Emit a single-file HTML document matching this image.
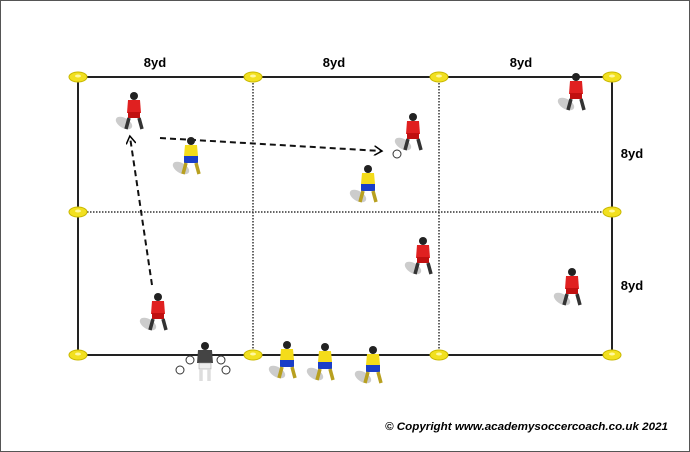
<!DOCTYPE html>
<html><head><style>
html,body{margin:0;padding:0;background:#fff;}
svg{display:block;}
text{font-family:"Liberation Sans",sans-serif;font-weight:bold;}
</style></head><body>
<svg width="690" height="452" viewBox="0 0 690 452" xmlns="http://www.w3.org/2000/svg">
<defs>
<g id="red">
<ellipse cx="-10" cy="30" rx="9" ry="5" fill="#ccc" transform="rotate(30 -10 30)"/>
<circle cx="0" cy="3" r="4" fill="#222"/>
<path d="M-6 7 L6 7 L7 20 L-7 20 Z" fill="#e02020"/>
<rect x="-6" y="19" width="12" height="6" fill="#c01010"/>
<path d="M-5 25 L-8 36 M5 25 L8 36" stroke="#333" stroke-width="3.5"/>
</g>
<g id="yel">
<ellipse cx="-10" cy="30" rx="9" ry="5" fill="#ccc" transform="rotate(30 -10 30)"/>
<circle cx="0" cy="3" r="4" fill="#222"/>
<path d="M-6 7 L6 7 L7 18 L-7 18 Z" fill="#f4dc1a"/>
<rect x="-7" y="18" width="14" height="7" fill="#1a3ec8"/>
<path d="M-5 25 L-8 36 M5 25 L8 36" stroke="#b8a020" stroke-width="3.5"/>
</g>
<g id="cone"><ellipse cx="0" cy="0" rx="9" ry="5" fill="#f2e020" stroke="#c9b800"/><ellipse cx="0" cy="-1" rx="3" ry="1.5" fill="#fff8a0"/></g>
<marker id="ah" markerWidth="10" markerHeight="10" refX="7" refY="5" orient="auto" markerUnits="userSpaceOnUse"><path d="M0 0 L8 5 L0 10" fill="none" stroke="#000" stroke-width="1.5"/></marker>
</defs>
<rect x="0.5" y="0.5" width="689" height="451" fill="#fff" stroke="#555"/>
<g stroke="#333" stroke-width="1.5" stroke-dasharray="1.5 1.5" fill="none">
<line x1="253" y1="77" x2="253" y2="355"/><line x1="439" y1="77" x2="439" y2="355"/>
<line x1="78" y1="212" x2="612" y2="212"/>
</g>
<rect x="78" y="77" width="534" height="278" fill="none" stroke="#222" stroke-width="2"/>
<g stroke="#111" stroke-width="2" stroke-dasharray="6 4" fill="none" marker-end="url(#ah)">
<line x1="160" y1="138" x2="381" y2="151"/>
<line x1="152" y1="285" x2="130" y2="137"/>
</g>
<use href="#cone" x="78" y="77"/><use href="#cone" x="253" y="77"/><use href="#cone" x="439" y="77"/><use href="#cone" x="612" y="77"/>
<use href="#cone" x="78" y="212"/><use href="#cone" x="612" y="212"/>
<use href="#cone" x="78" y="355"/><use href="#cone" x="253" y="355"/><use href="#cone" x="439" y="355"/><use href="#cone" x="612" y="355"/>
<text x="155" y="67" font-size="13" text-anchor="middle">8yd</text>
<text x="334" y="67" font-size="13" text-anchor="middle">8yd</text>
<text x="521" y="67" font-size="13" text-anchor="middle">8yd</text>
<text x="632" y="158" font-size="13" text-anchor="middle">8yd</text>
<text x="632" y="290" font-size="13" text-anchor="middle">8yd</text>
<use href="#red" x="134" y="93"/><use href="#red" x="413" y="114"/><use href="#red" x="576" y="74"/>
<use href="#red" x="423" y="238"/><use href="#red" x="572" y="269"/><use href="#red" x="158" y="294"/>
<use href="#yel" x="191" y="138"/><use href="#yel" x="368" y="166"/>
<use href="#yel" x="287" y="342"/><use href="#yel" x="325" y="344"/><use href="#yel" x="373" y="347"/>
<g transform="translate(205,343)">
<circle cx="0" cy="3" r="4" fill="#222"/>
<path d="M-7 7 L7 7 L8 20 L-8 20 Z" fill="#444"/>
<rect x="-6" y="20" width="12" height="6" fill="#eee" stroke="#999" stroke-width=".5"/>
<path d="M-4 26 L-4 38 M4 26 L4 38" stroke="#ddd" stroke-width="3.5"/>
</g>
<g fill="#fff" stroke="#333" stroke-width="1">
<circle cx="397" cy="154" r="4"/><circle cx="190" cy="360" r="4"/><circle cx="180" cy="370" r="4"/>
<circle cx="221" cy="360" r="4"/><circle cx="226" cy="370" r="4"/>
</g>
<text x="385" y="430" font-size="11" font-style="italic" textLength="283" lengthAdjust="spacingAndGlyphs">© Copyright www.academysoccercoach.co.uk 2021</text>
</svg>
</body></html>
